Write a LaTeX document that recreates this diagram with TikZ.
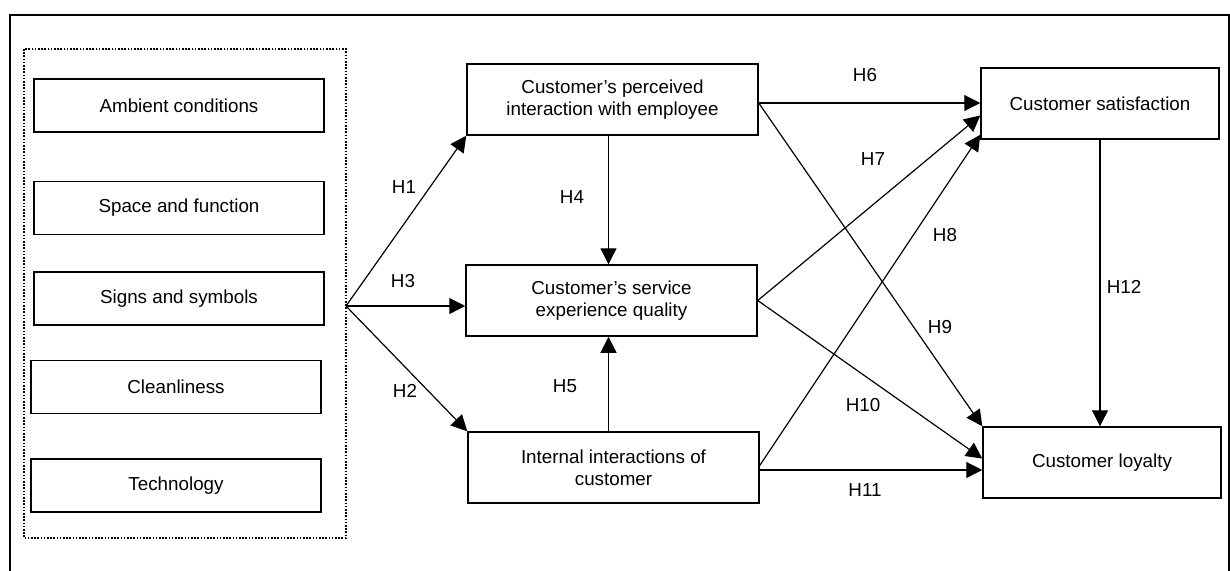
\documentclass[tikz,border=0pt]{standalone}
\usepackage{fontspec}
\setmainfont{Liberation Sans}
\usetikzlibrary{arrows.meta}

\tikzstyle{box} = [draw, line width=0.75pt, minimum width=145.5pt, minimum height=35.5pt, align=center, inner sep=2pt]
\tikzstyle{factor} = [box, minimum width=145pt, minimum height=26.5pt]
\tikzstyle{outcome} = [box, minimum width=119pt]
\tikzstyle{hyp} = [-{Triangle[length=8pt,width=8pt]}, line width=0.6pt]
\tikzstyle{lbl} = [inner sep=0pt]

\begin{document}
\begin{tikzpicture}[x=0.5pt,y=-0.5pt,font=\fontsize{9.4}{10.8}\selectfont]
\useasboundingbox (0,0) rectangle (1230,570);
\draw[line width=0.75pt] (10,15) rectangle (1229,600);
\draw[line width=1pt, dash pattern=on 0.8pt off 0.8pt] (24,49) rectangle (346,538);
% servicescape factors
\node[factor] (ambient) at (179,105.5) {Ambient conditions};
\node[factor] (space) at (179,208) {Space and function};
\node[factor] (signs) at (179,298.5) {Signs and symbols};
\node[factor] (clean) at (176,387) {Cleanliness};
\node[factor] (tech) at (176,485.5) {Technology};
\coordinate (src) at (346,306);
% mediators
\node[box] (perc) at (612.5,99.5) {Customer’s perceived\\interaction with employee};
\node[box] (serv) at (611.5,300.5) {Customer’s service\\experience quality};
\node[box] (intl) at (613.5,467.5) {Internal interactions of\\customer};
% outcomes
\node[outcome] (sat) at (1100,103.5) {Customer satisfaction};
\node[outcome] (loy) at (1102,462.5) {Customer loyalty};
% hypotheses
\draw[hyp] (src) -- (perc.south west);
\draw[hyp] (src) -- (src -| serv.west);
\draw[hyp] (src) -- (intl.north west);
\draw[hyp] ([xshift=-2pt]perc.south) -- ([xshift=-2pt]perc.south |- serv.north);
\draw[hyp] ([xshift=-2.5pt]intl.north) -- ([xshift=-2.5pt]intl.north |- serv.south);
\draw[hyp] ([yshift=-1.75pt]perc.east) -- ([yshift=-1.75pt]perc.east -| sat.west);
\draw[hyp] (serv.east) -- ([yshift=-6pt]sat.west);
\draw[hyp] ([yshift=1pt]intl.east) -- ([yshift=2.5pt]sat.south west);
\draw[hyp] ([yshift=-1.75pt]perc.east) -- (loy.north west);
\draw[hyp] (serv.east) -- ([yshift=2pt]loy.west);
\draw[hyp] ([yshift=-1.25pt]intl.east) -- ([yshift=-1.25pt]intl.east -| loy.west);
\draw[hyp] (sat.south) -- (sat.south |- loy.north);
\node[lbl] (h1) at (404,187) {H1};
\node[lbl] (h3) at (403,281) {H3};
\node[lbl] (h2) at (405,391) {H2};
\node[lbl] (h4) at (572,197) {H4};
\node[lbl] (h5) at (565,386) {H5};
\node[lbl] (h6) at (865,75) {H6};
\node[lbl] (h7) at (873,159) {H7};
\node[lbl] (h8) at (945,235) {H8};
\node[lbl] (h9) at (940,327) {H9};
\node[lbl] (h10) at (863,405) {H10};
\node[lbl] (h11) at (865,490) {H11};
\node[lbl] (h12) at (1124,287) {H12};
\end{tikzpicture}
\end{document}
